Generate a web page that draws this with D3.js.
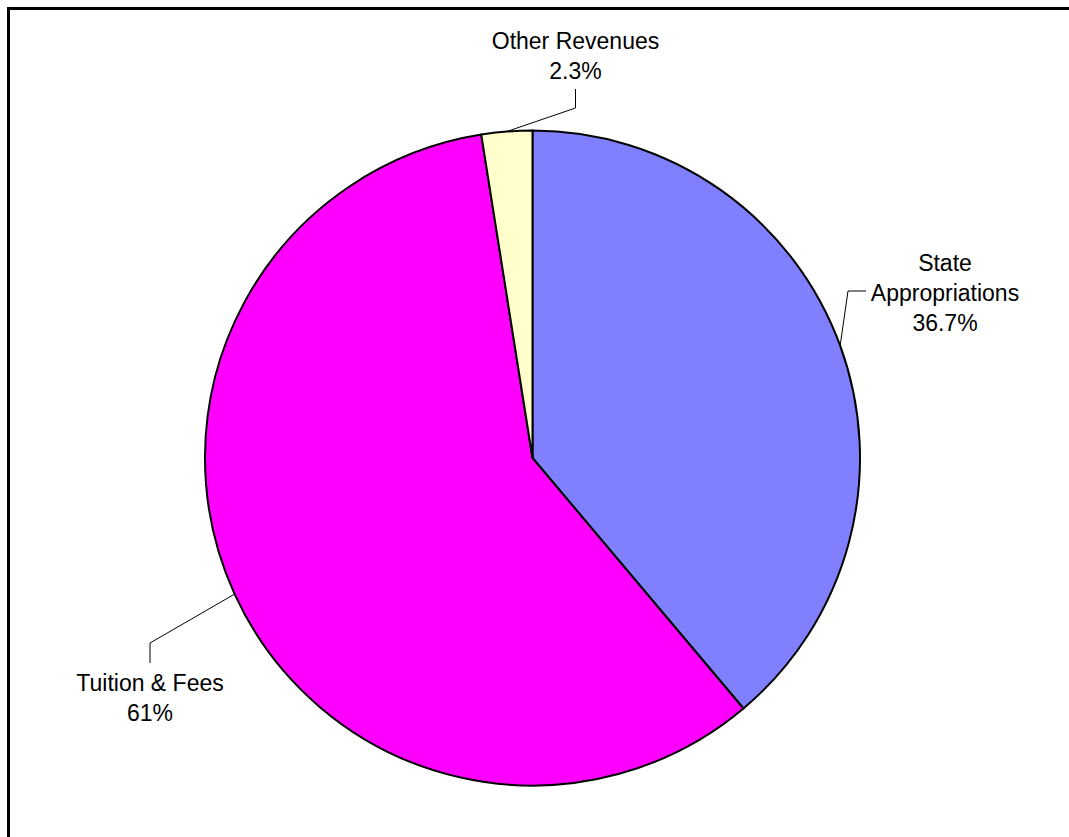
<!DOCTYPE html>
<html>
<head>
<meta charset="utf-8">
<script src="https://cdn.jsdelivr.net/npm/d3@7"></script>
<style>
  html, body { margin: 0; padding: 0; background: #fff; overflow: hidden; }
  svg { display: block; }
  text { font-family: "Liberation Sans", Arial, sans-serif; font-size: 23px; fill: #000; }
</style>
</head>
<body>
<svg id="chart" width="1069" height="837"></svg>
<script>
// Data (clockwise from 12 o'clock, as drawn)
const categories = ["State Appropriations", "Tuition & Fees", "Other Revenues"];
const values = [38.86, 58.64, 2.5];
const labelLines = [["State", "Appropriations", "36.7%"], ["Tuition & Fees", "61%"], ["Other Revenues", "2.3%"]];
const colors = ["#8080FF", "#FF00FF", "#FFFFCC"];

const svg = d3.select("#chart");
const W = 1069, H = 837;
const cx = 532.5, cy = 458, r = 327.5;

// Frame (extends past the right/bottom edges of the window)
svg.append("rect")
  .attr("x", 8.5).attr("y", 8.5)
  .attr("width", 1100).attr("height", 900)
  .attr("fill", "none").attr("stroke", "#000").attr("stroke-width", 3);

const pie = d3.pie().sort(null).value(d => d);
const arcs = pie(values);
const arc = d3.arc().innerRadius(0).outerRadius(r);

const g = svg.append("g").attr("transform", `translate(${cx},${cy})`);
g.selectAll("path.slice")
  .data(arcs)
  .join("path")
  .attr("class", "slice")
  .attr("d", arc)
  .attr("fill", (d, i) => colors[i])
  .attr("stroke", "#000")
  .attr("stroke-width", 2)
  .attr("stroke-linejoin", "round");

// Label layout (positions of label blocks and leader elbows)
const labelLayout = [
  { x: 945, y: 263, elbow: [[848, 291], [866, 291]] },
  { x: 150, y: 683, elbow: [[150, 643], [150, 663]] },
  { x: 575.5, y: 41, elbow: [[575.5, 108], [575.5, 89]] }
];
const lineH = 30;

arcs.forEach((d, i) => {
  const mid = (d.startAngle + d.endAngle) / 2;
  const ax = cx + r * Math.sin(mid);
  const ay = cy - r * Math.cos(mid);
  const L = labelLayout[i];
  const pts = [[ax, ay], ...L.elbow];
  svg.append("path")
    .attr("d", d3.line()(pts))
    .attr("fill", "none")
    .attr("stroke", "#000")
    .attr("stroke-width", 1);
  const t = svg.append("text")
    .attr("text-anchor", "middle");
  labelLines[i].forEach((s, k) => {
    t.append("tspan")
      .attr("x", L.x)
      .attr("y", L.y + k * lineH)
      .attr("dy", "0.35em")
      .text(s);
  });
});
</script>
</body>
</html>
